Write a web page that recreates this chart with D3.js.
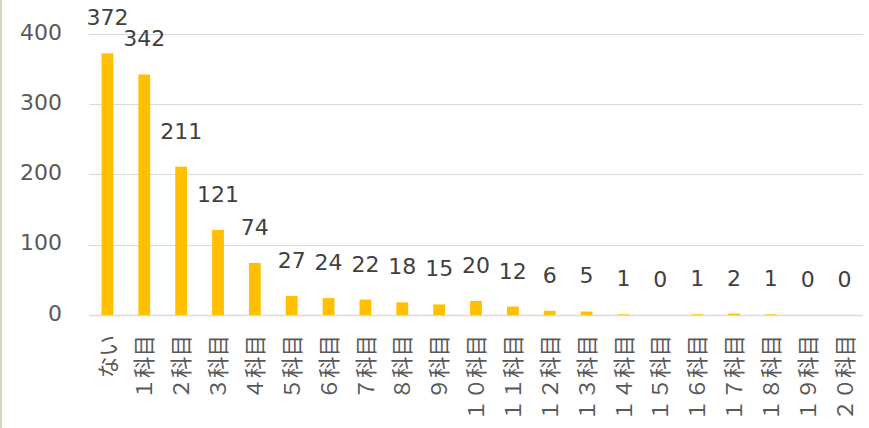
<!DOCTYPE html>
<html><head><meta charset="utf-8">
<script src="https://cdn.jsdelivr.net/npm/d3@7"></script>
<style>html,body{margin:0;padding:0;background:#fff;}svg{display:block;}</style>
</head><body>
<svg id="chart" width="869" height="428"></svg>
<script>
const categories = ["ない","１科目","２科目","３科目","４科目","５科目","６科目","７科目","８科目","９科目","１０科目","１１科目","１２科目","１３科目","１４科目","１５科目","１６科目","１７科目","１８科目","１９科目","２０科目"];
const values = [372,342,211,121,74,27,24,22,18,15,20,12,6,5,1,0,1,2,1,0,0];
const yTicks = [0,100,200,300,400];

const svg = d3.select("#chart");
const x = d3.scaleBand().domain(categories).range([89, 863]).paddingInner(0.68).paddingOuter(0.34);
const y = d3.scaleLinear().domain([0, 400]).range([315, 33.7]);

// left border
svg.append("rect").attr("x", 0).attr("y", 0).attr("width", 2).attr("height", 428).attr("fill", "#D9D5BC");

// gridlines
svg.append("g").selectAll("line").data(yTicks).join("line")
  .attr("x1", 89).attr("x2", 863)
  .attr("y1", d => Math.round(y(d)) + 0.5).attr("y2", d => Math.round(y(d)) + 0.5)
  .attr("stroke", "#D9D9D9").attr("stroke-width", d => d === 0 ? 1.5 : 1.2);

// y labels
svg.append("g").selectAll("text").data(yTicks).join("text")
  .attr("x", 62).attr("y", d => y(d) + 5.8)
  .attr("text-anchor", "end")
  .attr("font-family", "DejaVu Sans, Verdana, sans-serif").attr("font-size", 22)
  .attr("fill", "#595959")
  .text(d => d);

// bars
svg.append("g").selectAll("rect").data(values).join("rect")
  .attr("x", (d, i) => x(categories[i]))
  .attr("width", x.bandwidth())
  .attr("y", d => y(d))
  .attr("height", d => y(0) - y(d))
  .attr("fill", "#FFC000");

// data labels
svg.append("g").selectAll("text").data(values).join("text")
  .attr("x", (d, i) => x(categories[i]) + x.bandwidth() / 2)
  .attr("y", d => y(d) - 28)
  .attr("text-anchor", "middle")
  .attr("font-family", "DejaVu Sans, Verdana, sans-serif").attr("font-size", 22)
  .attr("fill", "#404040")
  .text(d => d);

// category labels
svg.append("g").selectAll("text").data(categories).join("text")
  .attr("transform", d => `translate(${x(d) + x.bandwidth() / 2},335) rotate(-90)`)
  .attr("dy", "0.38em")
  .attr("text-anchor", "end")
  .attr("font-family", "Noto Sans CJK JP, sans-serif").attr("font-size", 21.5)
  .attr("fill", "#595959")
  .text(d => d);
</script>
</body></html>
